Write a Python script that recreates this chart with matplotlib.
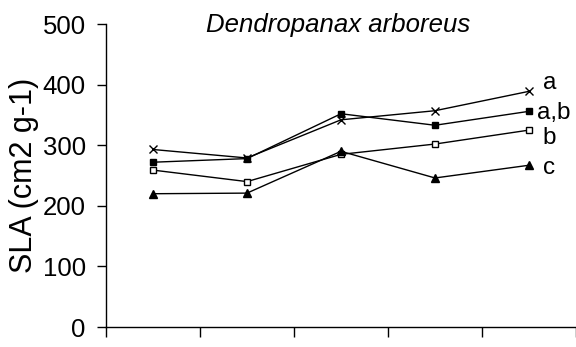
import matplotlib
matplotlib.use('Agg')
import matplotlib.pyplot as plt

plt.rcParams['font.family'] = ['Liberation Sans', 'DejaVu Sans']

# five sampling groups, one point per group
positions = [0.5, 1.5, 2.5, 3.5, 4.5]
sla_cross = [293, 279, 342, 357, 389]
sla_filled_sq = [272, 278, 352, 333, 356]
sla_open_sq = [259, 240, 285, 302, 325]
sla_triangle = [220, 221, 290, 246, 267]
letters = ['a', 'a,b', 'b', 'c']
letter_y = [402, 354, 312, 263]
letter_x = [4.65, 4.59, 4.64, 4.65]

fig = plt.figure(figsize=(5.76, 3.47), dpi=100)
ax = fig.add_axes([0.184, 0.0576, 0.816, 0.873])

ax.plot(positions, sla_cross, color='black', lw=1, marker='x', ms=6, mew=1)
ax.plot(positions, sla_filled_sq, color='black', lw=1, marker='s', ms=5, mfc='black')
ax.plot(positions, sla_open_sq, color='black', lw=1, marker='s', ms=4.5, mfc='white', mew=1)
ax.plot(positions, sla_triangle, color='black', lw=1, marker='^', ms=6, mfc='black')

for lab, lx, ly in zip(letters, letter_x, letter_y):
    ax.text(lx, ly, lab, fontsize=17.5, va='center', ha='left')

ax.text(2.47, 498, 'Dendropanax arboreus', fontsize=18.5, style='italic',
        ha='center', va='center', clip_on=False)

ax.set_xlim(0, 5)
ax.set_ylim(0, 500)
ax.set_xticks([0, 1, 2, 3, 4, 5])
ax.set_xticklabels([])
ax.set_yticks([0, 100, 200, 300, 400, 500])
ax.tick_params(axis='y', labelsize=18.5, length=6.5, width=1, direction='out', pad=8)
ax.tick_params(axis='x', length=7, width=1, direction='out')
ax.set_ylabel('SLA (cm2 g-1)', fontsize=22, labelpad=3)

ax.spines['top'].set_visible(False)
ax.spines['right'].set_visible(False)
ax.spines['left'].set_linewidth(1)
ax.spines['bottom'].set_linewidth(1)

fig.savefig('out.png', dpi=100)
